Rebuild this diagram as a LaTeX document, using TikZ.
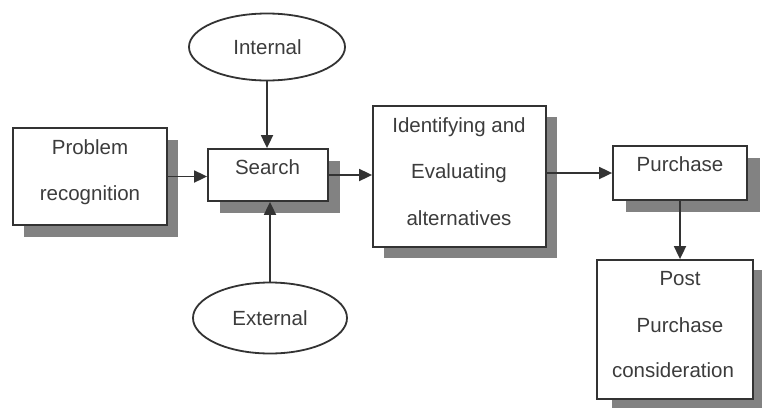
\documentclass[tikz,border=0pt]{standalone}
\usepackage{fontspec}
\setmainfont{Liberation Sans}
\usetikzlibrary{arrows.meta,shapes.geometric}
\definecolor{ink}{HTML}{333333}
\definecolor{txt}{HTML}{3C3C3C}
\definecolor{shade}{HTML}{828282}
\begin{document}
\begin{tikzpicture}[x=1pt,y=-1pt,
  box/.style={draw=ink,line width=1.8pt,fill=white,rectangle,inner sep=0pt},
  shadowbox/.style={fill=shade,draw=none,rectangle,inner sep=0pt},
  oval/.style={draw=ink,line width=1.8pt,fill=white,ellipse,inner sep=0pt},
  lbl/.style={text=txt,font=\fontsize{20.5}{24}\selectfont,anchor=base,inner sep=0pt},
  arr/.style={draw=ink,line width=1.8pt,-{Triangle[length=13pt,width=12pt]}}]
\useasboundingbox[fill=white] (0,0) rectangle (762,407);
\begin{scope}
\clip (0,0) rectangle (762,407);
% shadows
\node[shadowbox,minimum width=154pt,minimum height=97pt] (prs) at (101,188.5) {};
\node[shadowbox,minimum width=120pt,minimum height=52pt] (ses) at (280,187) {};
\node[shadowbox,minimum width=173pt,minimum height=141pt] (ids) at (470.5,187.5) {};
\node[shadowbox,minimum width=134pt,minimum height=54pt] (pus) at (693,185) {};
\node[shadowbox,minimum width=156pt,minimum height=139pt] (pos) at (690,339.5) {};
% boxes
\node[box,minimum width=154pt,minimum height=97pt] (pr) at (90,176.5) {};
\node[box,minimum width=120pt,minimum height=52pt] (se) at (268,175) {};
\node[box,minimum width=173pt,minimum height=141pt] (id) at (459.5,176.5) {};
\node[box,minimum width=134pt,minimum height=54pt] (pu) at (680,173) {};
\node[box,minimum width=156pt,minimum height=139pt] (po) at (675,329.5) {};
\node[oval,minimum width=156pt,minimum height=67pt] (in) at (267,47) {};
\node[oval,minimum width=154pt,minimum height=71pt] (ex) at (270,318) {};
\end{scope}
% labels
\node[lbl] (t1) at (90,154) {Problem};
\node[lbl] (t2) at (90,200) {recognition};
\node[lbl] (t3) at (267.5,174) {Search};
\node[lbl] (t4) at (267.5,54) {Internal};
\node[lbl] (t5) at (270,325) {External};
\node[lbl] (t6) at (459,132) {Identifying and};
\node[lbl] (t7) at (459,178) {Evaluating};
\node[lbl] (t8) at (459,225) {alternatives};
\node[lbl] (t9) at (680,171) {Purchase};
\node[lbl] (t10) at (680,285) {Post};
\node[lbl] (t11) at (680,332) {Purchase};
\node[lbl] (t12) at (673,377) {consideration};
% connectors
\draw[arr] (pr.east) -- (pr.east -| se.west);
\draw[arr] (in.south) -- (in.south |- se.north);
\draw[arr] (ex.north) -- (ex.north |- se.south);
\draw[arr] (se.east) -- (se.east -| id.west);
\draw[arr] (id.east |- pu.west) -- (pu.west);
\draw[arr] (pu.south) -- (pu.south |- po.north);
\end{tikzpicture}
\end{document}
